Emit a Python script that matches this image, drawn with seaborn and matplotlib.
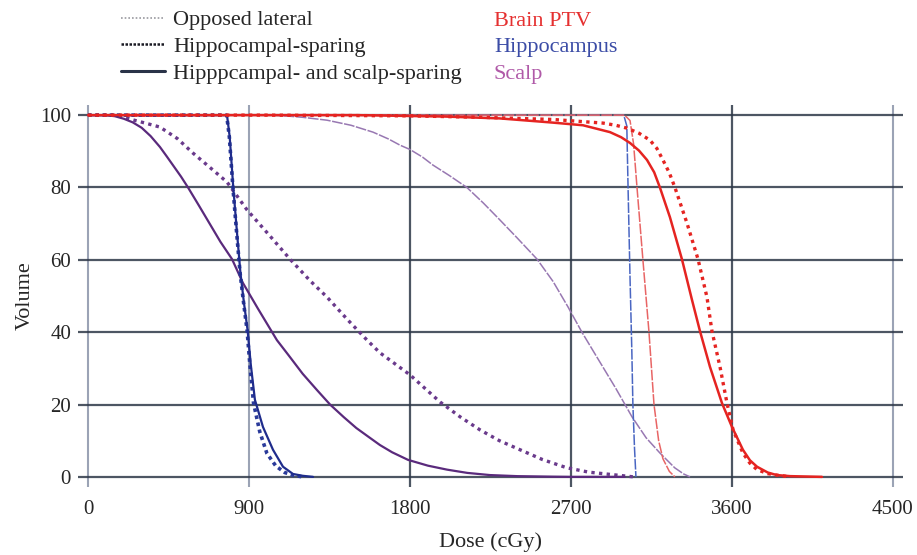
import numpy as np
import pandas as pd
import matplotlib
matplotlib.use("Agg")
import matplotlib.pyplot as plt
import seaborn as sns
from matplotlib.lines import Line2D

sns.set_style("white")
plt.rcParams['font.family'] = ['Liberation Serif', 'DejaVu Serif']

# --- DVH data (dose in cGy, volume in %) ---
# Brain PTV
ptv_ol_dose = [0, 1000, 2000, 3000, 3030, 3050, 3069, 3102, 3136, 3164, 3190, 3214, 3250, 3281]
ptv_ol_vol = [100, 100, 100, 100, 98.5, 92, 80, 60, 40, 20, 10, 5, 1.5, 0]

ptv_hs_dose = [0, 1000, 1800, 2200, 2600, 2879, 2950, 3013, 3080, 3141, 3180, 3214, 3250, 3281, 3348,
               3410, 3460, 3488, 3533, 3572, 3606, 3661, 3700, 3740, 3800, 3850, 3925]
ptv_hs_vol = [100, 100, 99.8, 99.4, 98.8, 97.8, 97.2, 96.4, 95, 93.1, 90.8, 87.6, 84, 80, 70.2,
              60.2, 49.7, 40.3, 30.4, 20.4, 13, 6.6, 3.8, 2, 0.9, 0.5, 0]

ptv_ss_dose = [0, 1000, 1500, 2000, 2300, 2582, 2767, 2918, 2980, 3030, 3080, 3125, 3165, 3197, 3253,
               3320, 3376, 3421, 3477, 3544, 3600, 3661, 3700, 3740, 3800, 3850, 3925, 4103]
ptv_ss_vol = [100, 100, 100, 99.6, 99.1, 98, 97.2, 95.3, 93.9, 92.3, 90.2, 87.6, 84.2, 80, 71.8,
              60.2, 49, 40.3, 30.4, 20.4, 13.8, 7.5, 4.6, 2.8, 1.2, 0.5, 0.2, 0]

# Hippocampus
hip_ol_dose = [0, 1500, 2995, 3012, 3019, 3030, 3040, 3046, 3055, 3063]
hip_ol_vol = [100, 100, 100, 97, 80, 55, 35, 20, 8, 0]

hip_hs_dose = [0, 500, 775, 790, 810, 830, 850, 870, 889, 905, 925, 960, 1000, 1050, 1100, 1150, 1200]
hip_hs_vol = [100, 100, 100, 94, 80, 68, 56.4, 48, 40.6, 31, 20.5, 12.5, 6.5, 3, 1.2, 0.4, 0]

hip_ss_dose = [0, 500, 777, 792, 812, 832, 852, 872, 892, 910, 933, 978, 1034, 1090, 1146, 1200, 1258]
hip_ss_vol = [100, 100, 100, 94, 80, 68, 56.4, 48, 40.6, 31, 21.3, 13.8, 7.5, 2.8, 0.8, 0.3, 0]

# Scalp
scalp_ol_dose = [0, 500, 1017, 1100, 1200, 1336, 1470, 1593, 1680, 1744, 1800, 1870, 1928, 2020, 2118,
                 2210, 2303, 2400, 2510, 2600, 2683, 2761, 2840, 2950, 3041, 3120, 3197, 3280, 3330, 3365]
scalp_ol_vol = [100, 100, 100, 99.8, 99.4, 98.6, 97.2, 95.3, 93.4, 91.7, 90.5, 88.4, 86.2, 83.3, 80,
                75.7, 71, 66, 60.2, 54, 47, 40, 33.5, 24.5, 16.6, 10.8, 6.6, 2.5, 0.8, 0]

scalp_hs_dose = [0, 140, 200, 250, 320, 402, 500, 587, 680, 777, 889, 1010, 1129, 1240, 1336, 1450,
                 1560, 1632, 1800, 1968, 2080, 2191, 2300, 2415, 2540, 2677, 2800, 2935, 3050]
scalp_hs_vol = [100, 100, 99.5, 98.7, 97.8, 96.7, 93.5, 89.5, 85.6, 81.5, 73.8, 67, 60.2, 54.3, 49.7,
                43.5, 37.8, 34.3, 28.2, 20.7, 16.6, 13, 10, 7.5, 4.8, 2.5, 1.3, 0.6, 0]

scalp_ss_dose = [0, 95, 150, 200, 250, 300, 350, 402, 440, 480, 520, 559, 620, 680, 740, 805, 866,
                 950, 1056, 1120, 1200, 1280, 1353, 1430, 1500, 1570, 1632, 1700, 1789, 1900, 2007,
                 2120, 2247, 2400, 2600, 2700, 3000]
scalp_ss_vol = [100, 100, 99.7, 99, 98, 96.5, 94.2, 91.2, 88.6, 85.8, 83, 80, 75, 70, 65, 60.2, 53.6,
                46.5, 37.8, 33.7, 28.5, 24, 20, 16.5, 13.5, 11, 8.8, 6.8, 4.7, 3.1, 2,
                1.1, 0.5, 0.2, 0.05, 0, 0]

x_ticks = [0, 900, 1800, 2700, 3600, 4500]
y_ticks = [0, 20, 40, 60, 80, 100]

plan_labels = ["Opposed lateral", "Hippocampal-sparing", "Hipppcampal- and scalp-sparing"]
structure_labels = ["Brain PTV", "Hippocampus", "Scalp"]
structure_colors = ["#e53030", "#3b4ca6", "#b05aa8"]

curves = [
    # dose, volume, color, linestyle, linewidth
    (scalp_ol_dose, scalp_ol_vol, "#9878b2", (0, (7, 1)), 1.1),
    (hip_ol_dose, hip_ol_vol, "#4a66c2", (0, (7, 1)), 1.1),
    (ptv_ol_dose, ptv_ol_vol, "#e86565", (0, (7, 1)), 1.1),
    (scalp_hs_dose, scalp_hs_vol, "#6a3a8c", (0, (1, 1.3)), 2.4),
    (scalp_ss_dose, scalp_ss_vol, "#5a2a7c", "-", 1.6),
    (hip_hs_dose, hip_hs_vol, "#2a3a9a", (0, (1, 1.0)), 2.6),
    (hip_ss_dose, hip_ss_vol, "#1f2c8c", "-", 1.6),
    (ptv_hs_dose, ptv_hs_vol, "#e52421", (0, (1, 1.3)), 2.4),
    (ptv_ss_dose, ptv_ss_vol, "#e52421", "-", 1.8),
]

fig = plt.figure(figsize=(9.17, 5.55), dpi=100)
ax = fig.add_axes([78 / 917, 68 / 555, 825 / 917, 382 / 555])

for dose, vol, col, ls, lw in curves:
    df = pd.DataFrame({"dose": dose, "vol": vol})
    sns.lineplot(data=df, x="dose", y="vol", ax=ax, color=col, linewidth=lw,
                 estimator=None, sort=False, zorder=3)
    ax.lines[-1].set_linestyle(ls)

ax.set_xlim(-56, 4556)
ax.set_ylim(-2.8, 102.8)
ax.set_xticks(x_ticks)
ax.set_yticks(y_ticks)
ax.grid(True, color="#2e3848", linewidth=1.6, alpha=0.85, zorder=1)
for i, gl in enumerate(ax.xaxis.get_gridlines()):
    if x_ticks[i] in (0, 900, 4500):
        gl.set_color("#8a93a8")
        gl.set_linewidth(1.5)
ax.tick_params(length=0, labelsize=15)
ax.tick_params(axis="y", pad=5)
ax.tick_params(axis="x", pad=9)
for s in ax.spines.values():
    s.set_visible(False)

ax.set_xlabel("Dose (cGy)", fontsize=16, labelpad=10)
ax.set_ylabel("Volume", fontsize=16, labelpad=4)

# legend: plan line styles
handles = [
    Line2D([], [], color="#9a9aa0", linestyle=(0, (1, 1.2)), linewidth=1.2),
    Line2D([], [], color="#1a1a24", linestyle=(0, (1, 0.6)), linewidth=1.8),
    Line2D([], [], color="#2a3348", linestyle="-", linewidth=2.2),
]
fig.legend(handles, plan_labels, loc="upper left", bbox_to_anchor=(112 / 917, 1 - 1 / 555),
           frameon=False, fontsize=16, handlelength=2.0, handletextpad=0.35,
           labelspacing=0.28, borderaxespad=0)

for i, (lab, col) in enumerate(zip(structure_labels, structure_colors)):
    fig.text(494 / 917, 1 - (21 + 26.5 * i) / 555, lab, color=col, fontsize=16, va="center", ha="left")

plt.savefig("out.png", dpi=100)
